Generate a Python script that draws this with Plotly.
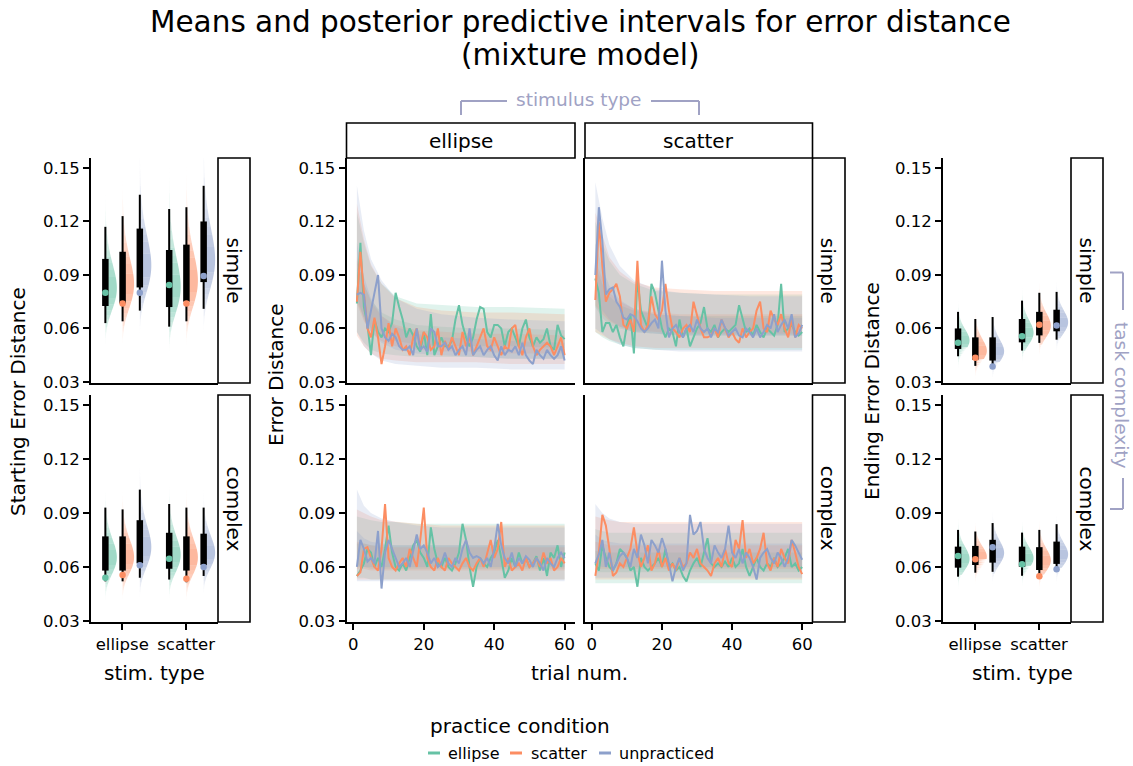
import numpy as np
import plotly.graph_objects as go

W, H = 1133, 766
H_EFF = 757.0   # measured effective vertical extent of the rendered page
FONT = "DejaVu Sans"

CONDITIONS = ["ellipse", "scatter", "unpracticed"]
COLORS = ["#66c2a5", "#fc8d62", "#8da0cb"]
STIM_TYPES = ["ellipse", "scatter"]
COMPLEXITY = ["simple", "complex"]
Y_TICKS = [0.03, 0.06, 0.09, 0.12, 0.15]
Y_TICK_LABELS = ["0.03", "0.06", "0.09", "0.12", "0.15"]
TRIAL_TICKS = [0, 20, 40, 60]
TRIALS = list(range(1, 61))
BAND_TRIALS = [1, 3, 5, 8, 12, 18, 25, 35, 45, 60]

# ---- starting / ending error summaries: [stim type][practice condition]
start_simple_thin_lo = [[0.063, 0.064, 0.070], [0.061, 0.064, 0.071]]
start_simple_thin_hi = [[0.117, 0.123, 0.135], [0.127, 0.128, 0.140]]
start_simple_thick_lo = [[0.0726, 0.074, 0.083], [0.072, 0.075, 0.086]]
start_simple_thick_hi = [[0.099, 0.103, 0.116], [0.104, 0.107, 0.120]]
start_simple_mean = [[0.080, 0.074, 0.080], [0.0844, 0.074, 0.0894]]

start_complex_thin_lo = [[0.052, 0.052, 0.054], [0.053, 0.0515, 0.055]]
start_complex_thin_hi = [[0.093, 0.092, 0.103], [0.095, 0.093, 0.093]]
start_complex_thick_lo = [[0.058, 0.058, 0.062], [0.059, 0.058, 0.061]]
start_complex_thick_hi = [[0.077, 0.077, 0.086], [0.079, 0.077, 0.0785]]
start_complex_mean = [[0.054, 0.0555, 0.061], [0.0645, 0.0535, 0.060]]

end_simple_thin_lo = [[0.0444, 0.039, 0.039], [0.0476, 0.0519, 0.0537]]
end_simple_thin_hi = [[0.0693, 0.0653, 0.0664], [0.0756, 0.080, 0.0805]]
end_simple_thick_lo = [[0.0485, 0.0425, 0.042], [0.0522, 0.0561, 0.0584]]
end_simple_thick_hi = [[0.060, 0.055, 0.055], [0.0653, 0.0693, 0.0705]]
end_simple_mean = [[0.052, 0.0435, 0.0387], [0.0556, 0.0621, 0.0616]]

end_complex_thin_lo = [[0.0546, 0.0568, 0.0573], [0.0551, 0.0546, 0.058]]
end_complex_thin_hi = [[0.0806, 0.0797, 0.0844], [0.0791, 0.0806, 0.0838]]
end_complex_thick_lo = [[0.0596, 0.0611, 0.0624], [0.0601, 0.0583, 0.0617]]
end_complex_thick_hi = [[0.0713, 0.0717, 0.0751], [0.0713, 0.071, 0.0741]]
end_complex_mean = [[0.0661, 0.0643, 0.071], [0.0615, 0.0549, 0.0587]]

# ---- mean error distance per trial (observed)
ellipse_simple_ellipse = [0.074, 0.108, 0.072, 0.062, 0.045, 0.065, 0.058, 0.055, 0.060, 0.058,
                          0.063, 0.080, 0.072, 0.065, 0.055, 0.060, 0.056, 0.050, 0.047, 0.058,
                          0.045, 0.068, 0.045, 0.050, 0.055, 0.050, 0.050, 0.053, 0.065, 0.073,
                          0.062, 0.055, 0.050, 0.055, 0.065, 0.072, 0.071, 0.058, 0.055, 0.062,
                          0.062, 0.060, 0.050, 0.058, 0.060, 0.055, 0.050, 0.060, 0.065, 0.055,
                          0.050, 0.055, 0.052, 0.054, 0.060, 0.050, 0.048, 0.062, 0.056, 0.054]
ellipse_simple_scatter = [0.075, 0.103, 0.080, 0.060, 0.055, 0.066, 0.055, 0.040, 0.050, 0.063,
                          0.050, 0.060, 0.055, 0.048, 0.050, 0.045, 0.055, 0.060, 0.050, 0.058,
                          0.055, 0.048, 0.050, 0.060, 0.045, 0.053, 0.048, 0.055, 0.050, 0.045,
                          0.058, 0.050, 0.055, 0.045, 0.050, 0.055, 0.060, 0.050, 0.048, 0.055,
                          0.050, 0.045, 0.050, 0.048, 0.060, 0.062, 0.050, 0.045, 0.055, 0.060,
                          0.050, 0.045, 0.048, 0.050, 0.052, 0.050, 0.045, 0.050, 0.055, 0.045]
ellipse_simple_unpracticed = [0.079, 0.080, 0.079, 0.060, 0.070, 0.080, 0.090, 0.060, 0.055, 0.053,
                              0.057, 0.055, 0.050, 0.048, 0.048, 0.050, 0.045, 0.060, 0.048, 0.050,
                              0.047, 0.060, 0.058, 0.050, 0.050, 0.052, 0.048, 0.050, 0.045, 0.048,
                              0.050, 0.045, 0.060, 0.045, 0.048, 0.050, 0.045, 0.048, 0.050, 0.045,
                              0.042, 0.050, 0.045, 0.048, 0.047, 0.050, 0.045, 0.052, 0.045, 0.042,
                              0.040, 0.048, 0.045, 0.043, 0.048, 0.045, 0.043, 0.045, 0.050, 0.042]

scatter_simple_ellipse = [0.088, 0.080, 0.058, 0.063, 0.063, 0.058, 0.062, 0.055, 0.050, 0.062,
                          0.068, 0.046, 0.088, 0.070, 0.065, 0.060, 0.085, 0.080, 0.070, 0.060,
                          0.055, 0.060, 0.058, 0.050, 0.065, 0.055, 0.060, 0.050, 0.055, 0.060,
                          0.063, 0.072, 0.060, 0.058, 0.062, 0.055, 0.058, 0.060, 0.058, 0.060,
                          0.062, 0.073, 0.065, 0.058, 0.060, 0.056, 0.062, 0.058, 0.055, 0.060,
                          0.058, 0.056, 0.062, 0.085, 0.058, 0.060, 0.062, 0.058, 0.056, 0.058]
scatter_simple_scatter = [0.076, 0.120, 0.095, 0.075, 0.080, 0.082, 0.085, 0.078, 0.062, 0.060,
                          0.065, 0.058, 0.098, 0.062, 0.058, 0.062, 0.078, 0.068, 0.065, 0.070,
                          0.085, 0.070, 0.060, 0.058, 0.055, 0.060, 0.062, 0.058, 0.075, 0.068,
                          0.060, 0.055, 0.055, 0.056, 0.060, 0.055, 0.065, 0.060, 0.055, 0.058,
                          0.054, 0.052, 0.060, 0.055, 0.058, 0.060, 0.070, 0.075, 0.060, 0.058,
                          0.070, 0.065, 0.062, 0.068, 0.060, 0.055, 0.065, 0.055, 0.062, 0.060]
scatter_simple_unpracticed = [0.090, 0.128, 0.109, 0.079, 0.082, 0.083, 0.075, 0.072, 0.066, 0.065,
                              0.068, 0.067, 0.064, 0.060, 0.058, 0.060, 0.063, 0.065, 0.060, 0.098,
                              0.070, 0.055, 0.060, 0.062, 0.058, 0.055, 0.060, 0.062, 0.058, 0.065,
                              0.060, 0.058, 0.060, 0.055, 0.060, 0.058, 0.065, 0.060, 0.056, 0.058,
                              0.060, 0.056, 0.055, 0.060, 0.058, 0.055, 0.060, 0.055, 0.058, 0.062,
                              0.060, 0.068, 0.058, 0.062, 0.065, 0.060, 0.068, 0.055, 0.057, 0.062]

ellipse_complex_ellipse = [0.055, 0.058, 0.062, 0.070, 0.068, 0.060, 0.065, 0.060, 0.070, 0.083,
                           0.068, 0.060, 0.058, 0.062, 0.058, 0.065, 0.072, 0.075, 0.068, 0.065,
                           0.060, 0.082, 0.070, 0.062, 0.060, 0.065, 0.060, 0.058, 0.062, 0.068,
                           0.084, 0.075, 0.060, 0.049, 0.060, 0.065, 0.062, 0.060, 0.065, 0.068,
                           0.075, 0.065, 0.054, 0.058, 0.065, 0.060, 0.068, 0.062, 0.065, 0.060,
                           0.062, 0.066, 0.058, 0.065, 0.055, 0.068, 0.065, 0.072, 0.060, 0.068]
ellipse_complex_scatter = [0.055, 0.057, 0.070, 0.071, 0.065, 0.060, 0.058, 0.070, 0.095, 0.065,
                           0.060, 0.058, 0.062, 0.065, 0.060, 0.070, 0.065, 0.060, 0.075, 0.093,
                           0.065, 0.060, 0.058, 0.065, 0.060, 0.058, 0.065, 0.062, 0.060, 0.058,
                           0.062, 0.065, 0.060, 0.058, 0.062, 0.065, 0.060, 0.068, 0.075, 0.065,
                           0.070, 0.085, 0.060, 0.065, 0.058, 0.060, 0.062, 0.058, 0.065, 0.060,
                           0.062, 0.065, 0.060, 0.068, 0.062, 0.065, 0.058, 0.060, 0.065, 0.062]
ellipse_complex_unpracticed = [0.060, 0.075, 0.070, 0.063, 0.065, 0.062, 0.080, 0.048, 0.068, 0.075,
                               0.070, 0.065, 0.060, 0.062, 0.065, 0.060, 0.070, 0.078, 0.070, 0.072,
                               0.068, 0.062, 0.065, 0.060, 0.062, 0.068, 0.062, 0.060, 0.065, 0.062,
                               0.070, 0.075, 0.068, 0.065, 0.066, 0.065, 0.062, 0.065, 0.060, 0.070,
                               0.084, 0.072, 0.065, 0.062, 0.068, 0.060, 0.065, 0.062, 0.066, 0.064,
                               0.060, 0.065, 0.062, 0.058, 0.065, 0.062, 0.060, 0.065, 0.068, 0.065]

scatter_complex_ellipse = [0.062, 0.058, 0.072, 0.065, 0.060, 0.058, 0.062, 0.070, 0.068, 0.065,
                           0.058, 0.060, 0.049, 0.065, 0.060, 0.058, 0.060, 0.062, 0.065, 0.060,
                           0.070, 0.060, 0.062, 0.058, 0.060, 0.055, 0.052, 0.058, 0.062, 0.065,
                           0.060, 0.068, 0.076, 0.062, 0.060, 0.062, 0.060, 0.063, 0.060, 0.065,
                           0.060, 0.062, 0.070, 0.060, 0.055, 0.060, 0.065, 0.060, 0.058, 0.062,
                           0.060, 0.065, 0.060, 0.062, 0.065, 0.070, 0.060, 0.062, 0.058, 0.060]
scatter_complex_scatter = [0.055, 0.068, 0.089, 0.083, 0.070, 0.055, 0.057, 0.062, 0.060, 0.065,
                           0.070, 0.082, 0.068, 0.060, 0.065, 0.072, 0.058, 0.062, 0.070, 0.060,
                           0.065, 0.058, 0.062, 0.058, 0.065, 0.060, 0.062, 0.068, 0.065, 0.070,
                           0.062, 0.060, 0.058, 0.055, 0.062, 0.065, 0.060, 0.070, 0.062, 0.060,
                           0.075, 0.070, 0.086, 0.065, 0.070, 0.062, 0.065, 0.070, 0.079, 0.062,
                           0.058, 0.065, 0.060, 0.070, 0.065, 0.062, 0.075, 0.068, 0.060, 0.056]
scatter_complex_unpracticed = [0.062, 0.067, 0.075, 0.060, 0.068, 0.058, 0.062, 0.066, 0.068, 0.065,
                               0.060, 0.070, 0.065, 0.078, 0.072, 0.062, 0.075, 0.072, 0.068, 0.076,
                               0.070, 0.062, 0.052, 0.060, 0.065, 0.058, 0.062, 0.089, 0.078, 0.080,
                               0.085, 0.070, 0.065, 0.062, 0.072, 0.068, 0.065, 0.070, 0.083, 0.068,
                               0.065, 0.070, 0.062, 0.068, 0.065, 0.060, 0.053, 0.065, 0.068, 0.070,
                               0.065, 0.062, 0.068, 0.065, 0.060, 0.065, 0.075, 0.072, 0.068, 0.064]

# ---- posterior predictive intervals at BAND_TRIALS: [condition] -> list
ellipse_simple_lo95 = [[0.058, 0.052, 0.048, 0.046, 0.045, 0.044, 0.044, 0.044, 0.043, 0.043],
                       [0.056, 0.050, 0.046, 0.043, 0.042, 0.041, 0.041, 0.041, 0.040, 0.040],
                       [0.058, 0.050, 0.046, 0.042, 0.040, 0.039, 0.038, 0.038, 0.037, 0.037]]
ellipse_simple_lo50 = [[0.075, 0.066, 0.060, 0.056, 0.053, 0.051, 0.050, 0.050, 0.050, 0.049],
                       [0.074, 0.064, 0.058, 0.053, 0.050, 0.048, 0.047, 0.047, 0.046, 0.046],
                       [0.078, 0.065, 0.058, 0.052, 0.048, 0.046, 0.045, 0.044, 0.043, 0.043]]
ellipse_simple_hi50 = [[0.098, 0.085, 0.076, 0.069, 0.065, 0.062, 0.061, 0.060, 0.060, 0.059],
                       [0.100, 0.085, 0.075, 0.067, 0.062, 0.059, 0.058, 0.057, 0.057, 0.056],
                       [0.108, 0.089, 0.077, 0.067, 0.061, 0.057, 0.055, 0.054, 0.053, 0.052]]
ellipse_simple_hi95 = [[0.125, 0.108, 0.095, 0.085, 0.078, 0.074, 0.073, 0.072, 0.072, 0.071],
                       [0.130, 0.110, 0.096, 0.085, 0.077, 0.072, 0.070, 0.069, 0.069, 0.068],
                       [0.140, 0.115, 0.099, 0.087, 0.077, 0.071, 0.068, 0.066, 0.065, 0.064]]

scatter_simple_lo95 = [[0.058, 0.055, 0.053, 0.051, 0.049, 0.048, 0.048, 0.048, 0.048, 0.048],
                       [0.058, 0.056, 0.054, 0.052, 0.050, 0.049, 0.049, 0.049, 0.049, 0.049],
                       [0.060, 0.057, 0.054, 0.051, 0.049, 0.048, 0.047, 0.047, 0.047, 0.047]]
scatter_simple_lo50 = [[0.072, 0.066, 0.062, 0.060, 0.058, 0.057, 0.056, 0.056, 0.056, 0.056],
                       [0.073, 0.068, 0.064, 0.061, 0.059, 0.058, 0.057, 0.057, 0.057, 0.057],
                       [0.078, 0.070, 0.065, 0.061, 0.058, 0.057, 0.056, 0.056, 0.056, 0.056]]
scatter_simple_hi50 = [[0.095, 0.085, 0.078, 0.073, 0.070, 0.068, 0.067, 0.067, 0.067, 0.067],
                       [0.098, 0.088, 0.080, 0.075, 0.071, 0.069, 0.068, 0.068, 0.068, 0.068],
                       [0.108, 0.094, 0.084, 0.076, 0.071, 0.068, 0.067, 0.066, 0.066, 0.066]]
scatter_simple_hi95 = [[0.120, 0.108, 0.098, 0.090, 0.085, 0.081, 0.080, 0.079, 0.079, 0.079],
                       [0.125, 0.112, 0.100, 0.092, 0.086, 0.083, 0.082, 0.081, 0.081, 0.081],
                       [0.142, 0.122, 0.107, 0.095, 0.087, 0.082, 0.080, 0.079, 0.078, 0.078]]

ellipse_complex_lo95 = [[0.054, 0.054, 0.053, 0.053, 0.053, 0.053, 0.053, 0.053, 0.053, 0.053],
                        [0.053, 0.053, 0.053, 0.053, 0.053, 0.053, 0.053, 0.053, 0.053, 0.053],
                        [0.052, 0.052, 0.052, 0.052, 0.052, 0.052, 0.052, 0.052, 0.052, 0.052]]
ellipse_complex_lo50 = [[0.060, 0.060, 0.059, 0.059, 0.059, 0.059, 0.059, 0.059, 0.059, 0.059],
                        [0.059, 0.059, 0.058, 0.058, 0.058, 0.058, 0.058, 0.058, 0.058, 0.058],
                        [0.061, 0.060, 0.060, 0.060, 0.060, 0.060, 0.060, 0.060, 0.060, 0.060]]
ellipse_complex_hi50 = [[0.073, 0.073, 0.072, 0.072, 0.072, 0.072, 0.072, 0.072, 0.072, 0.072],
                        [0.074, 0.073, 0.072, 0.071, 0.071, 0.071, 0.071, 0.071, 0.071, 0.071],
                        [0.080, 0.076, 0.074, 0.073, 0.072, 0.072, 0.072, 0.072, 0.072, 0.072]]
ellipse_complex_hi95 = [[0.088, 0.087, 0.086, 0.085, 0.085, 0.084, 0.084, 0.084, 0.084, 0.084],
                        [0.092, 0.090, 0.088, 0.086, 0.085, 0.084, 0.083, 0.083, 0.083, 0.083],
                        [0.103, 0.094, 0.090, 0.087, 0.085, 0.083, 0.082, 0.082, 0.082, 0.082]]

scatter_complex_lo95 = [[0.051, 0.051, 0.051, 0.051, 0.051, 0.051, 0.051, 0.051, 0.051, 0.051],
                        [0.053, 0.053, 0.053, 0.053, 0.053, 0.053, 0.053, 0.053, 0.053, 0.053],
                        [0.054, 0.054, 0.054, 0.054, 0.054, 0.054, 0.054, 0.054, 0.054, 0.054]]
scatter_complex_lo50 = [[0.057, 0.057, 0.057, 0.057, 0.057, 0.057, 0.057, 0.057, 0.057, 0.057],
                        [0.059, 0.059, 0.059, 0.059, 0.059, 0.059, 0.059, 0.059, 0.059, 0.059],
                        [0.061, 0.060, 0.060, 0.060, 0.060, 0.060, 0.060, 0.060, 0.060, 0.060]]
scatter_complex_hi50 = [[0.069, 0.068, 0.068, 0.068, 0.068, 0.068, 0.068, 0.068, 0.068, 0.068],
                        [0.074, 0.073, 0.072, 0.072, 0.072, 0.072, 0.072, 0.072, 0.072, 0.072],
                        [0.078, 0.075, 0.074, 0.073, 0.073, 0.073, 0.073, 0.073, 0.073, 0.073]]
scatter_complex_hi95 = [[0.081, 0.080, 0.079, 0.079, 0.079, 0.079, 0.079, 0.079, 0.079, 0.079],
                        [0.088, 0.087, 0.086, 0.085, 0.085, 0.085, 0.085, 0.085, 0.085, 0.085],
                        [0.095, 0.090, 0.087, 0.085, 0.084, 0.084, 0.084, 0.084, 0.084, 0.084]]

# ------------------------------------------------------------------ layout geometry (pixels)
PANELS = {
    1: ((91, 218), (158, 383)),      # starting, simple
    2: ((91, 218), (395, 622)),      # starting, complex
    3: ((346.5, 575), (158, 383)),   # trials ellipse simple
    4: ((585, 812.5), (158, 383)),   # trials scatter simple
    5: ((346.5, 575), (395, 622)),   # trials ellipse complex
    6: ((585, 812.5), (395, 622)),   # trials scatter complex
    7: ((943, 1071), (158, 383)),    # ending, simple
    8: ((943, 1071), (395, 622)),    # ending, complex
}
Y_RANGE = [0.0294, 0.1556]
DODGE = [-0.265, 0.005, 0.275]


def px(x):
    return x / W


def py(y):
    return 1 - y / H_EFF


def rgba(hexcol, a):
    h = hexcol.lstrip("#")
    r, g, b = int(h[0:2], 16), int(h[2:4], 16), int(h[4:6], 16)
    return f"rgba({r},{g},{b},{a:.3f})"


def axref(k):
    s = "" if k == 1 else str(k)
    return "x" + s, "y" + s


fig = go.Figure()

# ------------------------------------------------------------------ half-eye panels
NB = 10
AMAX = 0.62


def add_halfeye(k, thin_lo, thin_hi, thick_lo, thick_hi, means):
    xa, ya = axref(k)
    for c in range(3):
        buckets = {b: ([], []) for b in range(1, NB + 1)}
        for s in range(2):
            pos = s + DODGE[c]
            mu = 0.5 * (np.log(thick_lo[s][c]) + np.log(thick_hi[s][c]))
            sig = (np.log(thin_hi[s][c]) - np.log(thin_lo[s][c])) / 3.92
            z = np.linspace(-3.4, 3.4, 91)
            v = np.exp(mu + sig * z)
            dens = np.exp(-0.5 * z ** 2) / v
            dens = dens / dens.max()
            w = dens * 0.18
            for i in range(len(z) - 1):
                dm = 0.5 * (dens[i] + dens[i + 1])
                a = AMAX * dm ** 0.55
                b = int(round(a / AMAX * NB))
                if b < 1:
                    b = 1
                xs, ys = buckets[b]
                xs += [pos, pos + w[i], pos + w[i + 1], pos, None]
                ys += [v[i], v[i], v[i + 1], v[i + 1], None]
        for b, (xs, ys) in buckets.items():
            if not xs:
                continue
            fig.add_trace(go.Scatter(x=xs, y=ys, mode="lines", fill="toself",
                                     fillcolor=rgba(COLORS[c], AMAX * b / NB),
                                     line=dict(width=0, color="rgba(0,0,0,0)"),
                                     hoverinfo="skip", showlegend=False, xaxis=xa, yaxis=ya))
    tx, ty, kx, ky = [], [], [], []
    for s in range(2):
        for c in range(3):
            pos = s + DODGE[c]
            tx += [pos, pos, None]
            ty += [thin_lo[s][c], thin_hi[s][c], None]
            kx += [pos, pos, None]
            ky += [thick_lo[s][c], thick_hi[s][c], None]
    fig.add_trace(go.Scatter(x=tx, y=ty, mode="lines", line=dict(color="black", width=2),
                             hoverinfo="skip", showlegend=False, xaxis=xa, yaxis=ya))
    fig.add_trace(go.Scatter(x=kx, y=ky, mode="lines", line=dict(color="black", width=6.5),
                             hoverinfo="skip", showlegend=False, xaxis=xa, yaxis=ya))
    mx, my, mc = [], [], []
    for s in range(2):
        for c in range(3):
            mx.append(s + DODGE[c])
            my.append(means[s][c])
            mc.append(COLORS[c])
    fig.add_trace(go.Scatter(x=mx, y=my, mode="markers",
                             marker=dict(color=mc, size=6.5, line=dict(width=0)),
                             hoverinfo="skip", showlegend=False, xaxis=xa, yaxis=ya))


add_halfeye(1, start_simple_thin_lo, start_simple_thin_hi, start_simple_thick_lo,
            start_simple_thick_hi, start_simple_mean)
add_halfeye(2, start_complex_thin_lo, start_complex_thin_hi, start_complex_thick_lo,
            start_complex_thick_hi, start_complex_mean)
add_halfeye(7, end_simple_thin_lo, end_simple_thin_hi, end_simple_thick_lo,
            end_simple_thick_hi, end_simple_mean)
add_halfeye(8, end_complex_thin_lo, end_complex_thin_hi, end_complex_thick_lo,
            end_complex_thick_hi, end_complex_mean)

# ------------------------------------------------------------------ trial panels
TRIAL_PANELS = [
    (3, [ellipse_simple_ellipse, ellipse_simple_scatter, ellipse_simple_unpracticed],
     ellipse_simple_lo95, ellipse_simple_lo50, ellipse_simple_hi50, ellipse_simple_hi95),
    (4, [scatter_simple_ellipse, scatter_simple_scatter, scatter_simple_unpracticed],
     scatter_simple_lo95, scatter_simple_lo50, scatter_simple_hi50, scatter_simple_hi95),
    (5, [ellipse_complex_ellipse, ellipse_complex_scatter, ellipse_complex_unpracticed],
     ellipse_complex_lo95, ellipse_complex_lo50, ellipse_complex_hi50, ellipse_complex_hi95),
    (6, [scatter_complex_ellipse, scatter_complex_scatter, scatter_complex_unpracticed],
     scatter_complex_lo95, scatter_complex_lo50, scatter_complex_hi50, scatter_complex_hi95),
]

for k, series, lo95, lo50, hi50, hi95 in TRIAL_PANELS:
    xa, ya = axref(k)
    for c in range(3):
        for lo, hi in ((lo95, hi95), (lo50, hi50)):
            fig.add_trace(go.Scatter(x=BAND_TRIALS + BAND_TRIALS[::-1],
                                     y=lo[c] + hi[c][::-1], mode="lines", fill="toself",
                                     fillcolor=rgba(COLORS[c], 0.2),
                                     line=dict(width=0, color="rgba(0,0,0,0)"),
                                     hoverinfo="skip", showlegend=False, xaxis=xa, yaxis=ya))
    for c in range(3):
        fig.add_trace(go.Scatter(x=TRIALS, y=series[c], mode="lines",
                                 line=dict(color=COLORS[c], width=2),
                                 hoverinfo="skip", showlegend=False, xaxis=xa, yaxis=ya))

# ------------------------------------------------------------------ axes
tickfont = dict(family=FONT, size=16.5, color="black")
layout_axes = {}
for k, ((x0, x1), (y0, y1)) in PANELS.items():
    s = "" if k == 1 else str(k)
    bottom = k in (2, 5, 6, 8)
    ylabels = k in (1, 2, 3, 5, 7, 8)
    xa = dict(domain=[px(x0), px(x1)], anchor="y" + s, showgrid=False, zeroline=False,
              showline=True, linecolor="black", linewidth=2, fixedrange=True,
              tickfont=tickfont, ticks="outside" if bottom else "",
              ticklen=6, tickwidth=2, tickcolor="black", showticklabels=bottom)
    if k in (1, 2, 7, 8):
        xa.update(range=[-0.49 if k in (1, 2) else -0.5, 1.5], tickmode="array",
                  tickvals=[0, 1], ticktext=STIM_TYPES)
    else:
        xa.update(range=[-1.95, 62.95], tickmode="array", tickvals=TRIAL_TICKS,
                  ticktext=[str(t) for t in TRIAL_TICKS])
    ya = dict(domain=[py(y1), py(y0)], anchor="x" + s, range=Y_RANGE, showgrid=False,
              zeroline=False, showline=True, linecolor="black", linewidth=2, fixedrange=True,
              tickmode="array", tickvals=Y_TICKS, ticktext=Y_TICK_LABELS, tickfont=tickfont,
              ticks="outside" if ylabels else "", ticklen=6, tickwidth=2, tickcolor="black",
              showticklabels=ylabels)
    layout_axes["xaxis" + s] = xa
    layout_axes["yaxis" + s] = ya

# ------------------------------------------------------------------ strips, annotations
shapes = []
annotations = []


def rect(x0, y0, x1, y1):
    shapes.append(dict(type="rect", xref="paper", yref="paper", x0=px(x0), x1=px(x1),
                       y0=py(y1), y1=py(y0), line=dict(color="black", width=1.6),
                       fillcolor="white", layer="above"))


def text(x, y, t, size, color="black", angle=0, xanchor="center"):
    annotations.append(dict(x=px(x), y=py(y), xref="paper", yref="paper", text=t,
                            showarrow=False, textangle=angle, xanchor=xanchor, yanchor="middle",
                            font=dict(family=FONT, size=size, color=color)))


def seg(x0, y0, x1, y1, color, width):
    shapes.append(dict(type="line", xref="paper", yref="paper", x0=px(x0), x1=px(x1),
                       y0=py(y0), y1=py(y1), line=dict(color=color, width=width)))


for (sx0, sx1) in ((218, 250), (812.5, 845), (1071, 1103)):
    for (label, (ty0, ty1)) in zip(COMPLEXITY, ((158, 383), (395, 622))):
        rect(sx0, ty0, sx1, ty1)
        text((sx0 + sx1) / 2, (ty0 + ty1) / 2, label, 20, angle=90)
for label, (sx0, sx1) in zip(STIM_TYPES, ((346.5, 575), (585, 812.5))):
    rect(sx0, 123, sx1, 158)
    text((sx0 + sx1) / 2, 140.5, label, 20)

text(580, 22, "Means and posterior predictive intervals for error distance", 29.5)
text(580, 55, "(mixture model)", 29.5)

text(18, 402, "Starting Error Distance", 20, angle=-90)
text(276, 375, "Error Distance", 20, angle=-90)
text(872, 391, "Ending Error Distance", 20, angle=-90)
text(154, 673, "stim. type", 20)
text(579, 673, "trial num.", 20)
text(1022, 673, "stim. type", 20)

GRP = "#a0a2c4"
text(579, 100, "stimulus type", 18.5, color=GRP)
seg(461, 101, 507, 101, GRP, 2)
seg(461, 101, 461, 115, GRP, 2)
seg(651, 101, 699, 101, GRP, 2)
seg(699, 101, 699, 115, GRP, 2)
text(1122, 395, "task complexity", 18.5, color=GRP, angle=90)
seg(1110, 272.5, 1123, 272.5, GRP, 2)
seg(1123, 272.5, 1123, 310, GRP, 2)
seg(1123, 478, 1123, 509, GRP, 2)
seg(1110, 509, 1123, 509, GRP, 2)

text(428, 726, "practice condition", 20, xanchor="left")
LEG_X = [(428, 446), (510, 529), (599, 617)]
for (sx, tx), label, col in zip(LEG_X, CONDITIONS, COLORS):
    seg(sx, 753, sx + 12, 753, col, 3)
    text(tx, 753, label, 16, xanchor="left")

fig.update_layout(width=W, height=H, autosize=False, margin=dict(l=0, r=0, t=0, b=0, pad=0),
                  paper_bgcolor="white", plot_bgcolor="white", showlegend=False,
                  shapes=shapes, annotations=annotations, **layout_axes)

fig.write_html("out.html", config={"responsive": False})
